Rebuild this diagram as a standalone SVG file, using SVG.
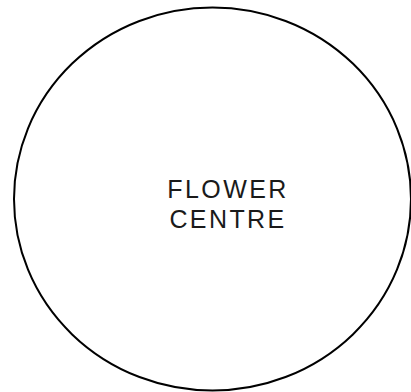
<svg xmlns="http://www.w3.org/2000/svg" width="411" height="392" viewBox="0 0 411 392">
<style>
.node-shape{fill:#ffffff;stroke:#000000;stroke-width:2}
.label{font-family:"Liberation Sans",Arial,sans-serif;font-size:25px;fill:#1a1a1a;text-anchor:middle;letter-spacing:2.4px}
</style>
<rect width="411" height="392" fill="#ffffff"/>
<g id="connectors"></g>
<g id="flower-centre">
<ellipse class="node-shape" cx="212.5" cy="199" rx="198.5" ry="191.5"/>
<text class="label" x="228" y="197.5">FLOWER</text>
<text class="label" x="228" y="228.3">CENTRE</text>
</g>
</svg>
